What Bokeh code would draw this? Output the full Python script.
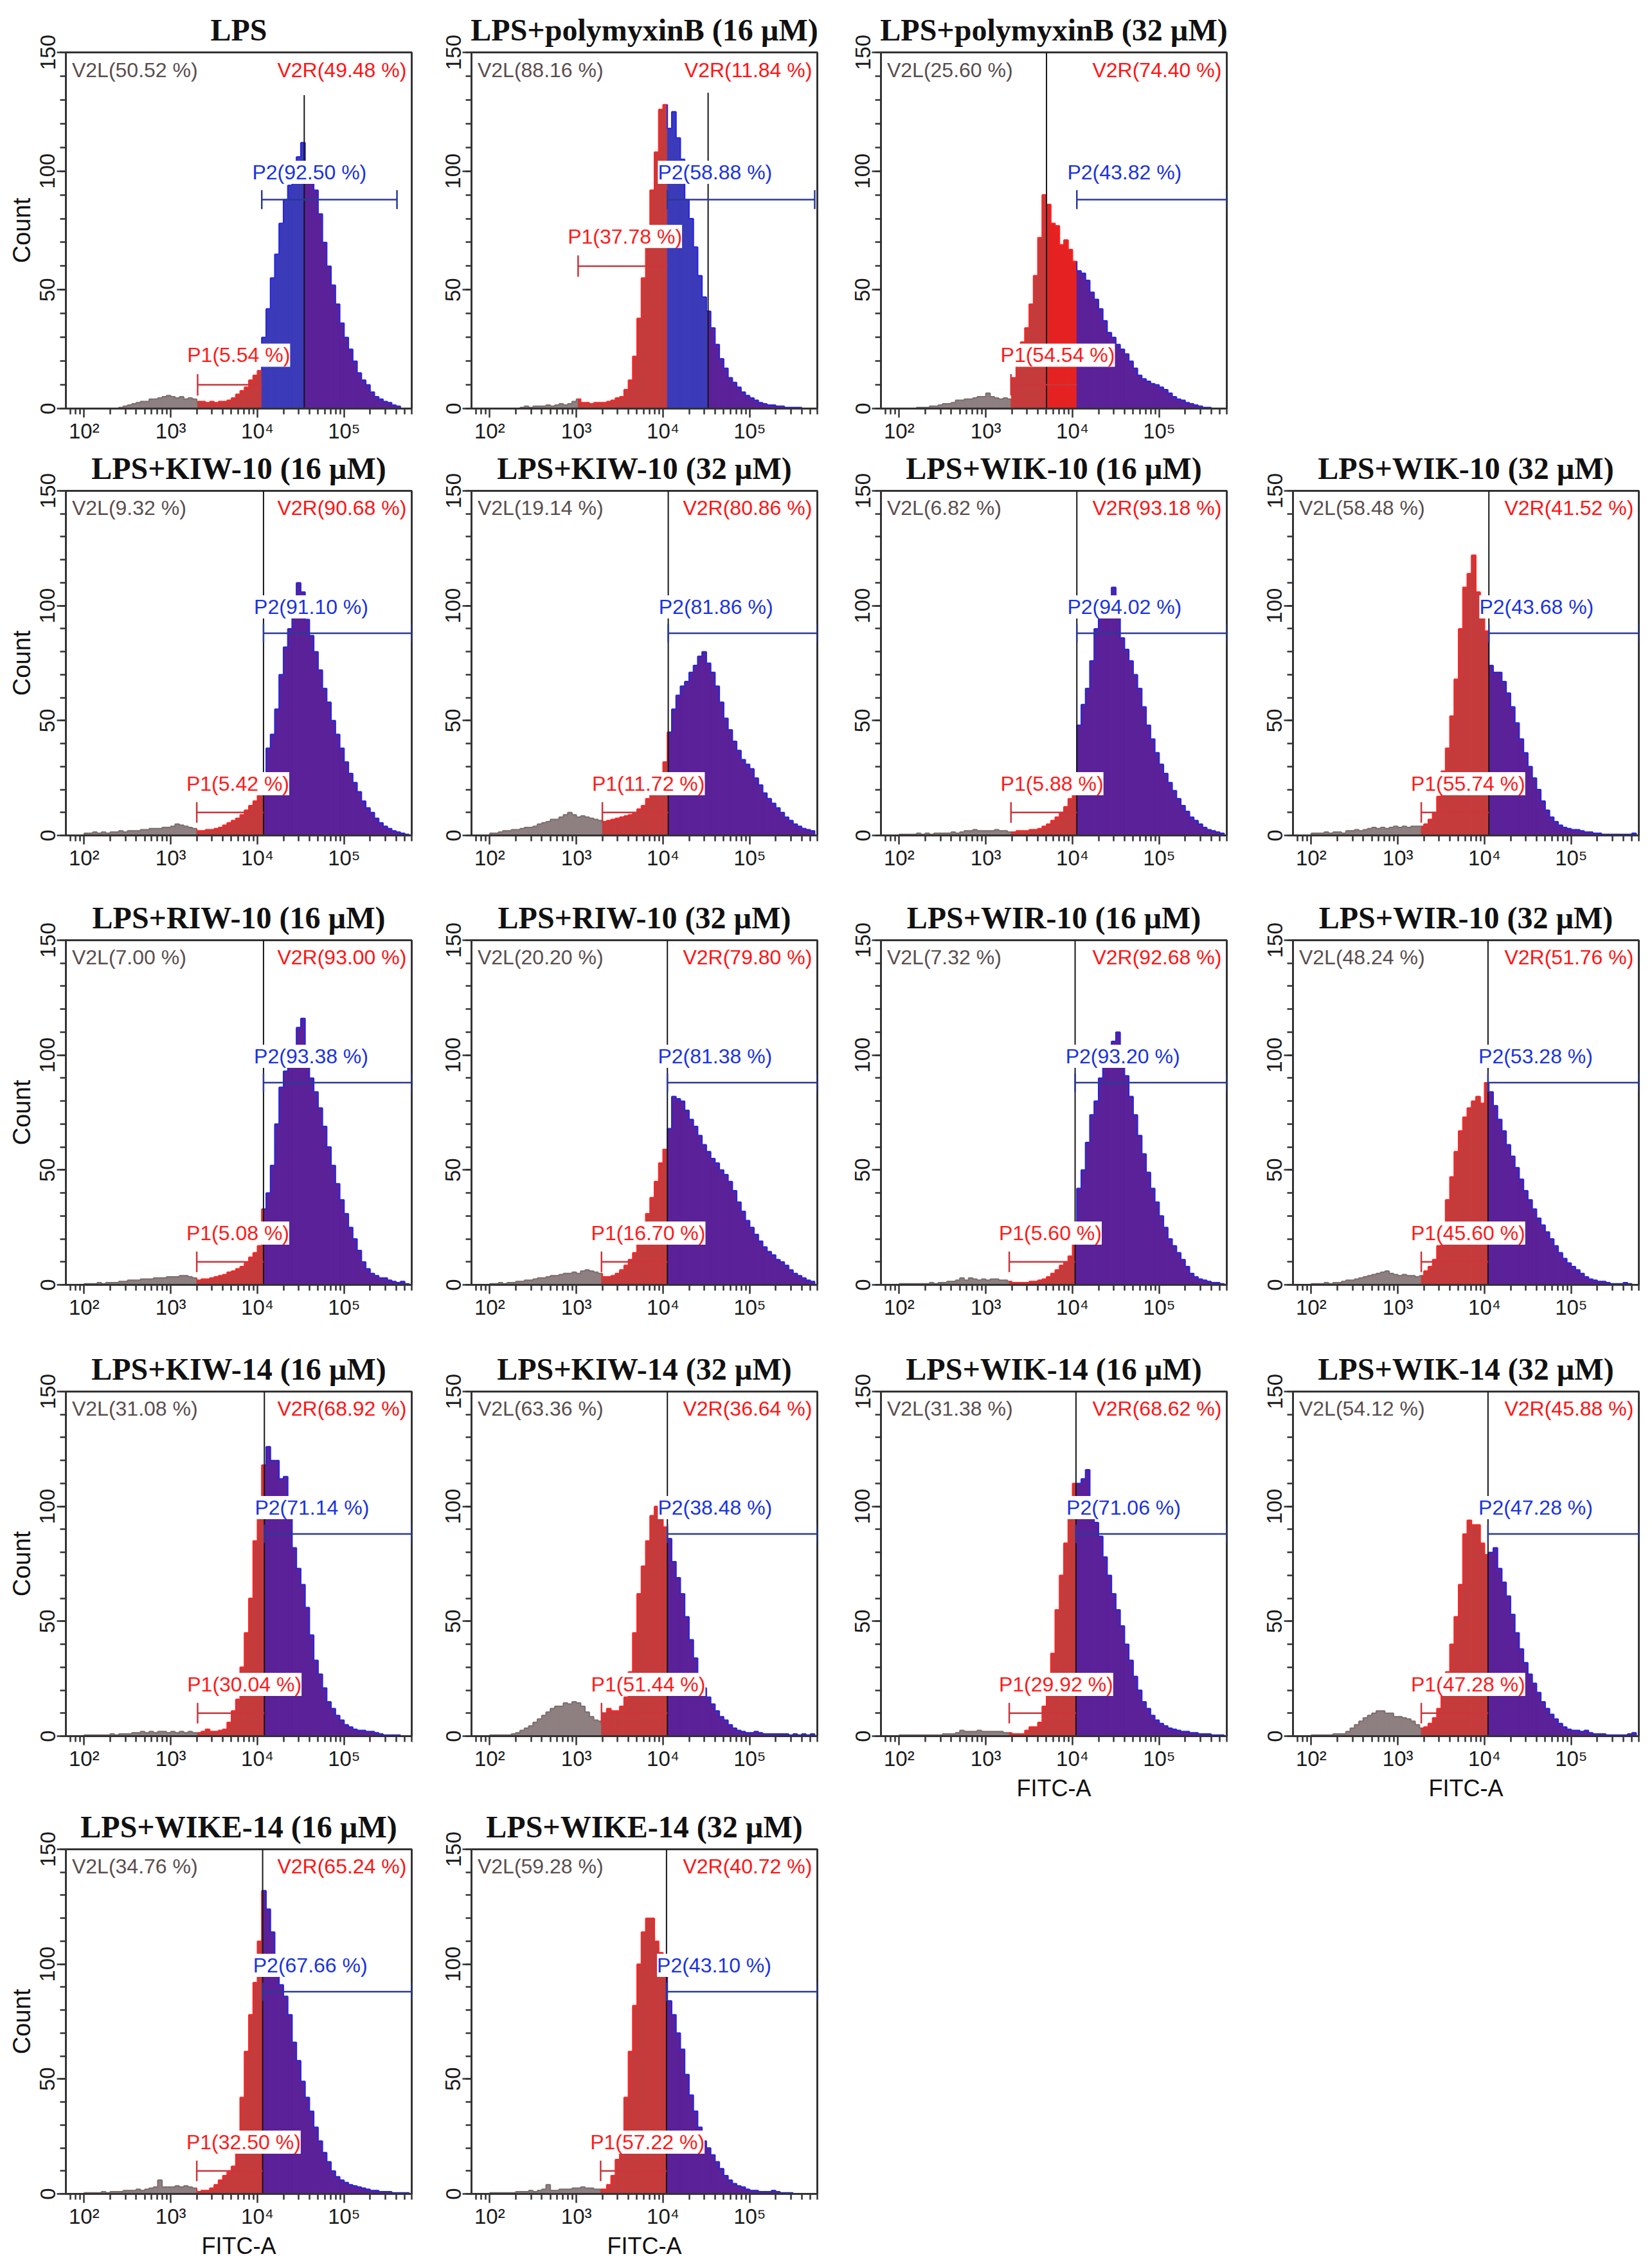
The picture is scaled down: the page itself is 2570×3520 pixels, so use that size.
from bokeh.plotting import figure
from bokeh.layouts import gridplot
from bokeh.models import Range1d, SingleIntervalTicker, FixedTicker, Label, ColumnDataSource
from bokeh.embed import file_html
from bokeh.resources import INLINE

# ---------------- data ----------------
bin_start = 2.0      # log10 of first bin edge
bin_width = 0.05     # bin width in decades

titles = ["LPS", "LPS+polymyxinB (16 µM)", "LPS+polymyxinB (32 µM)",
          "LPS+KIW-10 (16 µM)", "LPS+KIW-10 (32 µM)", "LPS+WIK-10 (16 µM)", "LPS+WIK-10 (32 µM)",
          "LPS+RIW-10 (16 µM)", "LPS+RIW-10 (32 µM)", "LPS+WIR-10 (16 µM)", "LPS+WIR-10 (32 µM)",
          "LPS+KIW-14 (16 µM)", "LPS+KIW-14 (32 µM)", "LPS+WIK-14 (16 µM)", "LPS+WIK-14 (32 µM)",
          "LPS+WIKE-14 (16 µM)", "LPS+WIKE-14 (32 µM)"]

v2l_pct = ["50.52", "88.16", "25.60", "9.32", "19.14", "6.82", "58.48", "7.00", "20.20",
           "7.32", "48.24", "31.08", "63.36", "31.38", "54.12", "34.76", "59.28"]
v2r_pct = ["49.48", "11.84", "74.40", "90.68", "80.86", "93.18", "41.52", "93.00", "79.80",
           "92.68", "51.76", "68.92", "36.64", "68.62", "45.88", "65.24", "40.72"]
p1_pct = ["5.54", "37.78", "54.54", "5.42", "11.72", "5.88", "55.74", "5.08", "16.70",
          "5.60", "45.60", "30.04", "51.44", "29.92", "47.28", "32.50", "57.22"]
p2_pct = ["92.50", "58.88", "43.82", "91.10", "81.86", "94.02", "43.68", "93.38", "81.38",
          "93.20", "53.28", "71.14", "38.48", "71.06", "47.28", "67.66", "43.10"]

# gate positions (log10 FITC-A) and levels (count)
p1_start = [3.31, 3.02, 3.29, 3.30, 3.30, 3.29, 3.27, 3.30, 3.29, 3.27, 3.27, 3.31, 3.29, 3.27, 3.27, 3.30, 3.28]
p2_start = [4.05, 4.05, 4.05, 4.07, 4.06, 4.05, 4.05, 4.07, 4.05, 4.03, 4.04, 4.08, 4.05, 4.04, 4.04, 4.06, 4.04]
v2_pos = [4.54, 4.52, 3.70, 4.07, 4.06, 4.05, 4.05, 4.07, 4.05, 4.03, 4.04, 4.08, 4.05, 4.04, 4.04, 4.06, 4.04]
v2_top = [132, 133, 150, 150, 150, 150, 150, 150, 150, 150, 150, 150, 150, 150, 150, 150, 150]
p2_end = [5.61, 5.75, 5.78, 5.78, 5.78, 5.78, 5.78, 5.78, 5.78, 5.78, 5.78, 5.78, 5.78, 5.78, 5.78, 5.78, 5.78]
p1_level = [10, 60, 10, 10, 10, 10, 10, 10, 10, 10, 10, 10, 10, 10, 10, 10, 10]
p2_level = [88, 88, 88, 88, 88, 88, 88, 88, 88, 88, 88, 88, 88, 88, 88, 88, 88]

# histogram counts, bins from 10^2.00 in 0.05-decade steps (75 bins)
c_lps = [0, 0, 0, 0, 0, 0, 0, 0, 0.5, 1,
         1.5, 2, 2.5, 3, 3, 4, 4, 4.5, 5, 5.5,
         5, 4.5, 5, 4, 4.5, 4, 3, 3, 2.5, 3,
         2.5, 3, 3, 3.5, 4.5, 6, 7.5, 9, 12, 14,
         16, 30, 42, 55, 65, 78, 88, 94, 100, 106,
         112, 104, 98, 92, 82, 70, 60, 52, 44, 36,
         30, 25, 20, 15, 12, 10, 7, 5, 4, 3,
         2.5, 1.5, 1, 0, 0]
c_pmb16 = [0, 0, 0, 0, 0, 0, 0, 0.5, 1, 0.5,
           1, 1, 1, 1.5, 1, 1.5, 2, 1.5, 2, 3,
           4, 2.5, 2.5, 2, 2.5, 2.5, 2.5, 3, 3.5, 4.5,
           5, 8, 12, 22, 38, 55, 75, 92, 108, 126,
           128, 118, 125, 114, 105, 88, 80, 68, 56, 47,
           41, 34, 27, 21, 17, 13, 11, 9, 7, 5.5,
           4.5, 3.5, 2.5, 2, 1.5, 1.5, 1, 1, 0.5, 0.5,
           0.5, 0.5, 0, 0, 0]
c_pmb32 = [0, 0, 0, 0, 0.5, 0.5, 0.5, 1, 1, 1.5,
           2, 2, 2.5, 3.5, 3.5, 4, 4, 4.5, 5, 5,
           6.5, 5, 4.5, 4, 4.5, 4, 13, 22, 28, 34,
           44, 56, 72, 90, 86, 78, 77, 69, 71, 67,
           62, 58, 57, 54, 49, 46, 42, 37, 32, 30,
           27, 25, 23, 20, 17, 14, 12.5, 11.5, 10.5, 10,
           9, 8, 6.5, 5, 4, 3.5, 2.5, 2, 1.5, 1,
           0.5, 0.5, 0, 0, 0]
c_kiw10_16 = [1, 1, 1.5, 1, 1.5, 1, 1.5, 1.5, 2, 1.5,
              2, 2, 2, 2.5, 2.5, 3, 3, 3, 3.5, 3.5,
              4, 5, 4.5, 4, 3.5, 3, 2, 2, 2.5, 2.5,
              3, 3.5, 4.5, 5.5, 6.5, 7.5, 9, 11, 13, 15,
              18, 26, 38, 44, 55, 70, 82, 90, 100, 110,
              106, 94, 87, 80, 72, 64, 58, 50, 44, 38,
              32, 27, 23, 19, 15, 12, 10, 7.5, 5.5, 4,
              3, 2, 1.5, 1, 0.5]
c_kiw10_32 = [1, 1, 1.5, 2, 2, 2.5, 2.5, 3, 3.5, 3.5,
              4, 5, 5.5, 6, 7, 7, 8, 9, 10, 9,
              8, 8.5, 8, 7.5, 7, 6.5, 6, 6.5, 7, 7.5,
              8, 8.5, 9, 10, 11.5, 13, 16, 19, 24, 26,
              32, 45, 55, 61, 65, 67, 71, 74, 78, 80,
              75, 71, 65, 58, 51, 46, 41, 37, 33, 31,
              29, 25, 22, 18.5, 16, 14, 12, 10, 8, 6.5,
              5, 4, 3, 2.5, 2]
c_wik10_16 = [0.5, 0.5, 0.5, 0.5, 1, 0.5, 1, 0.5, 1, 1,
              1, 1, 1.5, 1, 1.5, 2, 2, 2.5, 2, 2,
              2, 2, 2.5, 2, 2, 1.5, 1.5, 2, 2, 2,
              2.5, 2.5, 3, 4, 5, 6.5, 8, 10, 12.5, 16,
              24, 48, 57, 64, 76, 90, 104, 102, 101, 108,
              96, 86, 81, 76, 70, 64, 56, 48, 42, 36,
              31, 27, 23, 19.5, 16, 13, 10.5, 8, 6.5, 5,
              3.5, 2.5, 2, 1.5, 1]
c_wik10_32 = [1, 1, 1, 1.5, 1, 1.5, 1.5, 1, 2, 2,
              2.5, 2, 2.5, 3, 3.5, 3, 3.5, 3, 3.5, 4,
              3.5, 4, 3.5, 4, 4, 4, 5, 7, 10, 17,
              28, 38, 52, 68, 90, 108, 114, 122, 106, 96,
              89, 74, 71, 71, 67, 62, 56, 49, 42, 36,
              30, 25, 20, 15, 11, 8, 6, 4.5, 3.5, 3,
              2.5, 2.5, 2, 1.5, 1.5, 1, 1, 0.5, 0.5, 0.5,
              0.5, 0.5, 0.5, 0.5, 1]
c_riw10_16 = [0.5, 0.5, 0.5, 1, 0.5, 1, 1, 1, 1.5, 1.5,
              2, 2, 2, 2.5, 2.5, 2.5, 3, 3, 3, 3.5,
              3.5, 3.5, 4, 4, 3.5, 3, 2, 2.5, 2.5, 3,
              3.5, 4, 4.5, 5.5, 6, 7, 8, 9.5, 12, 14,
              17, 33, 40, 52, 70, 86, 93, 96, 104, 112,
              116, 97, 90, 84, 77, 69, 60, 52, 44, 37,
              31, 25, 20, 15, 10, 7, 5, 4, 3, 3,
              2, 1.5, 1, 1.5, 0.5]
c_riw10_32 = [0.5, 0.5, 1, 0.5, 1, 1, 1.5, 1.5, 2, 2,
              2.5, 3, 3, 3.5, 4, 4, 4.5, 5, 5, 5.5,
              5, 6, 6.5, 6, 5.5, 5, 3.5, 3.5, 4, 5,
              6.5, 8.5, 11, 14, 19, 25, 31, 38, 45, 53,
              59, 68, 82, 81, 80, 76, 72, 69, 65, 61,
              58, 55, 53, 50, 48, 45, 41, 36, 32, 28,
              25, 22, 19, 16.5, 14.5, 13, 11, 10, 8.5, 6.5,
              5, 4, 3, 2, 1.5]
c_wir10_16 = [0.5, 0.5, 0.5, 0.5, 0.5, 0.5, 0.5, 1, 0.5, 1,
              1, 1.5, 1.5, 2, 3, 2, 3, 2.5, 2, 2.5,
              2, 2.5, 2.5, 2, 2, 1.5, 1, 1, 1, 1,
              1.5, 1.5, 2, 2.5, 3.5, 5, 6.5, 8.5, 10, 12.5,
              18, 42, 50, 62, 74, 80, 90, 97, 101, 106,
              110, 102, 91, 82, 74, 65, 57, 49, 42, 36,
              30, 25, 20, 17, 14, 11, 8, 5, 3.5, 2.5,
              2, 1.5, 1, 1, 0.5]
c_wir10_32 = [0.5, 0.5, 0.5, 1, 0.5, 1, 1, 1.5, 2, 2,
              2.5, 3, 3.5, 4, 4.5, 5, 5.5, 6, 5, 4.5,
              4, 4.5, 4, 4, 3.5, 4, 6, 8, 11, 17,
              27, 37, 47, 58, 67, 73, 77, 80, 82, 79,
              88, 84, 78, 72, 67, 61, 56, 51, 46, 41,
              37, 33, 29, 26, 23, 20, 17, 14, 11.5, 9.5,
              8, 6.5, 5, 3.5, 2.5, 2, 1.5, 1.5, 1, 0.5,
              0.5, 0.5, 1, 0.5, 0]
c_kiw14_16 = [0.5, 0.5, 0.5, 0.5, 0.5, 0.5, 1, 0.5, 1, 1,
              1, 1.5, 1.5, 2, 1.5, 2, 1.5, 2, 2, 1.5,
              2, 1.5, 2, 1.5, 2, 1.5, 1.5, 2, 3, 2,
              2, 2.5, 3, 6, 11, 16, 30, 45, 60, 85,
              100, 118, 126, 120, 120, 112, 113, 100, 82, 73,
              66, 56, 44, 33, 27, 21, 15, 12, 9, 7,
              5, 4, 3, 2.5, 2.5, 2, 2, 1.5, 1, 0.5,
              0.5, 0.5, 0.5, 0, 0]
c_kiw14_32 = [0.5, 0.5, 0.5, 0.5, 0.5, 1, 1.5, 2.5, 3.5, 4.5,
              6, 7.5, 9, 10.5, 12, 13, 13, 14.5, 14, 15,
              14.5, 13, 10.5, 8.5, 7, 6.5, 10, 12, 11, 11,
              13, 17, 28, 45, 62, 74, 85, 96, 100, 95,
              91, 86, 76, 69, 62, 52, 42, 34, 26, 21,
              17, 14, 11, 8.5, 7, 5, 3.5, 2.5, 2, 1.5,
              1.5, 2, 1.5, 1, 1, 1, 1, 1, 1, 0.5,
              1, 0.5, 1, 0.5, 1]
c_wik14_16 = [0.5, 0.5, 0.5, 0.5, 0.5, 0.5, 0.5, 0.5, 0.5, 0.5,
              1, 1, 1, 1.5, 2.5, 2, 2, 2, 2.5, 2,
              2, 2, 2, 2, 1.5, 1.5, 1, 1, 1, 2.5,
              4, 4, 6, 13, 22, 36, 55, 70, 84, 96,
              110, 110, 112, 116, 98, 93, 87, 78, 70, 62,
              55, 48, 40, 33, 26, 20, 15, 12, 9, 7,
              5.5, 4.5, 3.5, 3, 2.5, 2, 2, 1.5, 1.5, 1,
              1, 1, 0.5, 0.5, 0.5]
c_wik14_32 = [0.5, 0.5, 0.5, 0.5, 0.5, 1, 1, 1, 2, 3.5,
              5, 6.5, 8, 9, 10, 11, 11, 10, 10, 8.5,
              8.5, 8, 7.5, 6.5, 5, 3.5, 4, 5.5, 8, 12,
              18, 28, 40, 52, 66, 88, 94, 92, 92, 84,
              79, 80, 82, 73, 67, 61, 53, 45, 38, 32,
              27, 23, 19, 15, 12, 9.5, 7.5, 5.5, 4, 3,
              2.5, 2.5, 2, 2.5, 1.5, 1, 1, 1, 0.5, 0.5,
              0.5, 0.5, 0.5, 1, 1.5]
c_wike14_16 = [0.5, 0.5, 0.5, 0.5, 1, 0.5, 1, 1, 1, 1.5,
               1.5, 1.5, 2, 1.5, 2, 2.5, 3, 6, 3, 3,
               3, 3.5, 3, 3.5, 3, 2.5, 1, 1.5, 1.5, 2.5,
               4, 6, 8, 9.5, 12, 22, 42, 62, 78, 92,
               110, 132, 124, 114, 102, 91, 86, 78, 66, 58,
               49, 42, 36, 29, 23, 18, 14, 10, 7.5, 6,
               5, 4, 3.5, 3, 2.5, 2, 1.5, 1.5, 1, 1,
               1, 0.5, 0.5, 0.5, 0.5]
c_wike14_32 = [0.5, 0.5, 0.5, 0.5, 0.5, 0.5, 1, 1, 1, 1.5,
               1, 1.5, 2, 4, 1.5, 1.5, 2, 2, 2, 2.5,
               2.5, 3, 2.5, 2.5, 2, 2, 2, 4, 8, 15,
               25, 42, 62, 82, 100, 114, 120, 120, 110, 105,
               98, 84, 78, 70, 63, 52, 43, 36, 29, 23,
               20, 17, 14, 11, 8, 6, 4.5, 3.5, 3, 2,
               1.5, 1.5, 1, 1, 1, 1.5, 1, 0.5, 0.5, 0.5,
               0, 0, 0, 0, 0]

counts = [c_lps, c_pmb16, c_pmb32, c_kiw10_16, c_kiw10_32, c_wik10_16, c_wik10_32,
          c_riw10_16, c_riw10_32, c_wir10_16, c_wir10_32, c_kiw14_16, c_kiw14_32,
          c_wik14_16, c_wik14_32, c_wike14_16, c_wike14_32]

x_tick_values = [100, 1000, 10000, 100000]
x_tick_labels = ["10²", "10³", "10⁴", "10⁵"]

# ---------------- layout / style ----------------
grid_index = [[0, 1, 2, None], [3, 4, 5, 6], [7, 8, 9, 10], [11, 12, 13, 14], [15, 16, None, None]]
fitc_panels = {13, 14, 15, 16}

FRAME_W = 538
frame_h = [554, 536, 536, 536, 536]
border_top = [81, 71, 71, 71, 71]
border_bottom = [55, 91, 94, 99, 101]
border_left = [102, 88, 94, 98]
border_right = [5, 5, 5, 3]

XMIN, XMAX = 1.79, 5.78

fill_col = {"none": "#8e7f80", "p1l": "#c53b3b", "p1r": "#e52222", "p2l": "#3b3bb9", "p2r": "#5b2199"}
edge_col = {"none": "#7a6e6e", "p1l": "#ff2424", "p1r": "#ff2424", "p2l": "#2424e6", "p2r": "#2626dd"}

SANS = "Liberation Sans"
SERIF = "Liberation Serif"
ANN_SIZE = "32px"

minor_x = [m * 10 ** k for k in range(1, 6) for m in range(2, 10)
           if 10 ** XMIN <= m * 10 ** k <= 10 ** XMAX]


def region(m, p1s, p2s, v2):
    if m < p1s:
        return "none"
    if m < p2s:
        return "p1l" if m < v2 else "p1r"
    return "p2l" if m < v2 else "p2r"


def make_panel(i, r, c):
    p = figure(frame_width=FRAME_W, frame_height=frame_h[r], x_axis_type="log",
               x_range=Range1d(10 ** XMIN, 10 ** XMAX), y_range=Range1d(0, 150),
               output_backend="svg", toolbar_location=None,
               min_border_left=border_left[c], min_border_right=border_right[c],
               min_border_top=border_top[r], min_border_bottom=border_bottom[r],
               background_fill_color="white", border_fill_color="white")
    p.title.text = titles[i]
    p.title.align = "center"
    p.title.text_font = SERIF
    p.title.text_font_style = "bold"
    p.title.text_font_size = "48px"
    p.title.text_color = "#111111"
    p.title.standoff = 17

    p.xgrid.visible = False
    p.ygrid.visible = False
    p.outline_line_color = "#333333"
    p.outline_line_width = 3

    xa = p.xaxis[0]
    ya = p.yaxis[0]
    xa.ticker = FixedTicker(ticks=x_tick_values, minor_ticks=minor_x)
    xa.major_label_overrides = {v: t for v, t in zip(x_tick_values, x_tick_labels)}
    ya.ticker = SingleIntervalTicker(interval=50, num_minor_ticks=5)
    ya.major_label_orientation = "vertical"
    for ax in (xa, ya):
        ax.axis_line_color = "#333333"
        ax.axis_line_width = 3
        ax.major_tick_line_color = "#333333"
        ax.major_tick_line_width = 2.5
        ax.minor_tick_line_color = "#333333"
        ax.minor_tick_line_width = 2.5
        ax.major_tick_in = 0
        ax.major_tick_out = 14
        ax.minor_tick_in = 0
        ax.minor_tick_out = 9
        ax.major_label_text_font = SANS
        ax.major_label_text_font_size = "33px"
        ax.major_label_text_color = "#1a1a1a"
    xa.major_label_standoff = 2
    ya.major_label_standoff = 3
    if c == 0:
        ya.axis_label = "Count"
        ya.axis_label_text_font = SANS
        ya.axis_label_text_font_size = "38px"
        ya.axis_label_text_font_style = "normal"
        ya.axis_label_text_color = "#111111"
        ya.axis_label_standoff = 5
    if i in fitc_panels:
        xa.axis_label = "FITC-A"
        xa.axis_label_text_font = SANS
        xa.axis_label_text_font_size = "36px"
        xa.axis_label_text_font_style = "normal"
        xa.axis_label_text_color = "#111111"
        xa.axis_label_standoff = 4

    # ---- histogram (bins split at the gate boundaries) ----
    vals = counts[i]
    p1s, p2s, v2 = p1_start[i], p2_start[i], v2_pos[i]
    bounds = sorted({p1s, p2s, v2})
    L, R, T, G = [], [], [], []
    for k, h in enumerate(vals):
        a = bin_start + k * bin_width
        b = a + bin_width
        cuts = [a] + [x for x in bounds if a < x < b] + [b]
        for u, v in zip(cuts[:-1], cuts[1:]):
            L.append(u); R.append(v); T.append(h); G.append(region(0.5 * (u + v), p1s, p2s, v2))
    q = [(l, rr, t, g) for l, rr, t, g in zip(L, R, T, G) if t > 0]
    qsrc = ColumnDataSource(dict(left=[10 ** x[0] for x in q], right=[10 ** x[1] for x in q],
                                 top=[x[2] for x in q], fc=[fill_col[x[3]] for x in q]))
    p.quad(left="left", right="right", top="top", bottom=0, fill_color="fc",
           line_color="fc", line_width=1, source=qsrc)

    sx0, sy0, sx1, sy1, sc = [], [], [], [], []
    prev = 0
    for u, v, h, g in zip(L, R, T, G):
        col = edge_col[g]
        if h != prev:
            sx0.append(10 ** u); sy0.append(prev); sx1.append(10 ** u); sy1.append(h); sc.append(col)
        if h > 0:
            sx0.append(10 ** u); sy0.append(h); sx1.append(10 ** v); sy1.append(h); sc.append(col)
        prev = h
    if prev > 0:
        sx0.append(10 ** R[-1]); sy0.append(prev); sx1.append(10 ** R[-1]); sy1.append(0); sc.append(edge_col[G[-1]])
    osrc = ColumnDataSource(dict(x0=sx0, y0=sy0, x1=sx1, y1=sy1, c=sc))
    p.segment(x0="x0", y0="y0", x1="x1", y1="y1", line_color="c", line_width=2, source=osrc)

    # ---- V2 marker ----
    p.segment(x0=[10 ** v2], y0=[0], x1=[10 ** v2], y1=[v2_top[i]], line_color="#161616", line_width=2)

    # ---- P2 gate ----
    y2 = p2_level[i]
    gx0 = [10 ** p2s, 10 ** p2s, 10 ** p2_end[i]]
    gx1 = [10 ** p2_end[i], 10 ** p2s, 10 ** p2_end[i]]
    gy0 = [y2, y2 - 4, y2 - 4]
    gy1 = [y2, y2 + 4, y2 + 4]
    p.segment(x0=gx0, y0=gy0, x1=gx1, y1=gy1, line_color="#2b3a95", line_width=2.5)

    # ---- P1 gate ----
    y1 = p1_level[i]
    p.segment(x0=[10 ** p1s, 10 ** p1s], y0=[y1, y1 - 4.5], x1=[10 ** p2s, 10 ** p1s], y1=[y1, y1 + 4.5],
              line_color="#c9363c", line_width=2.5)

    # ---- labels ----
    p.add_layout(Label(x=10 ** 1.86, y=142.5, text=f"V2L({v2l_pct[i]} %)", text_align="left",
                       text_baseline="middle", text_font=SANS, text_font_size=ANN_SIZE, text_color="#5a4e4e"))
    p.add_layout(Label(x=10 ** 5.72, y=142.5, text=f"V2R({v2r_pct[i]} %)", text_align="right",
                       text_baseline="middle", text_font=SANS, text_font_size=ANN_SIZE, text_color="#ff1414"))
    p.add_layout(Label(x=10 ** (p2s - 0.11), y=y2 + 11.5, text=f"P2({p2_pct[i]} %)", text_align="left",
                       text_baseline="middle", text_font=SANS, text_font_size=ANN_SIZE, text_color="#1a33e0",
                       background_fill_color="white"))
    p.add_layout(Label(x=10 ** (p1s - 0.12), y=y1 + 12.5, text=f"P1({p1_pct[i]} %)", text_align="left",
                       text_baseline="middle", text_font=SANS, text_font_size=ANN_SIZE, text_color="#ff1a1a",
                       background_fill_color="white"))
    return p


rows = []
for r, row in enumerate(grid_index):
    cells = []
    for c, idx in enumerate(row):
        cells.append(None if idx is None else make_panel(idx, r, c))
    rows.append(cells)

grid = gridplot(rows, toolbar_location=None)

with open("out.html", "w", encoding="utf-8") as f:
    f.write(file_html(grid, INLINE, "Flow cytometry histograms"))
